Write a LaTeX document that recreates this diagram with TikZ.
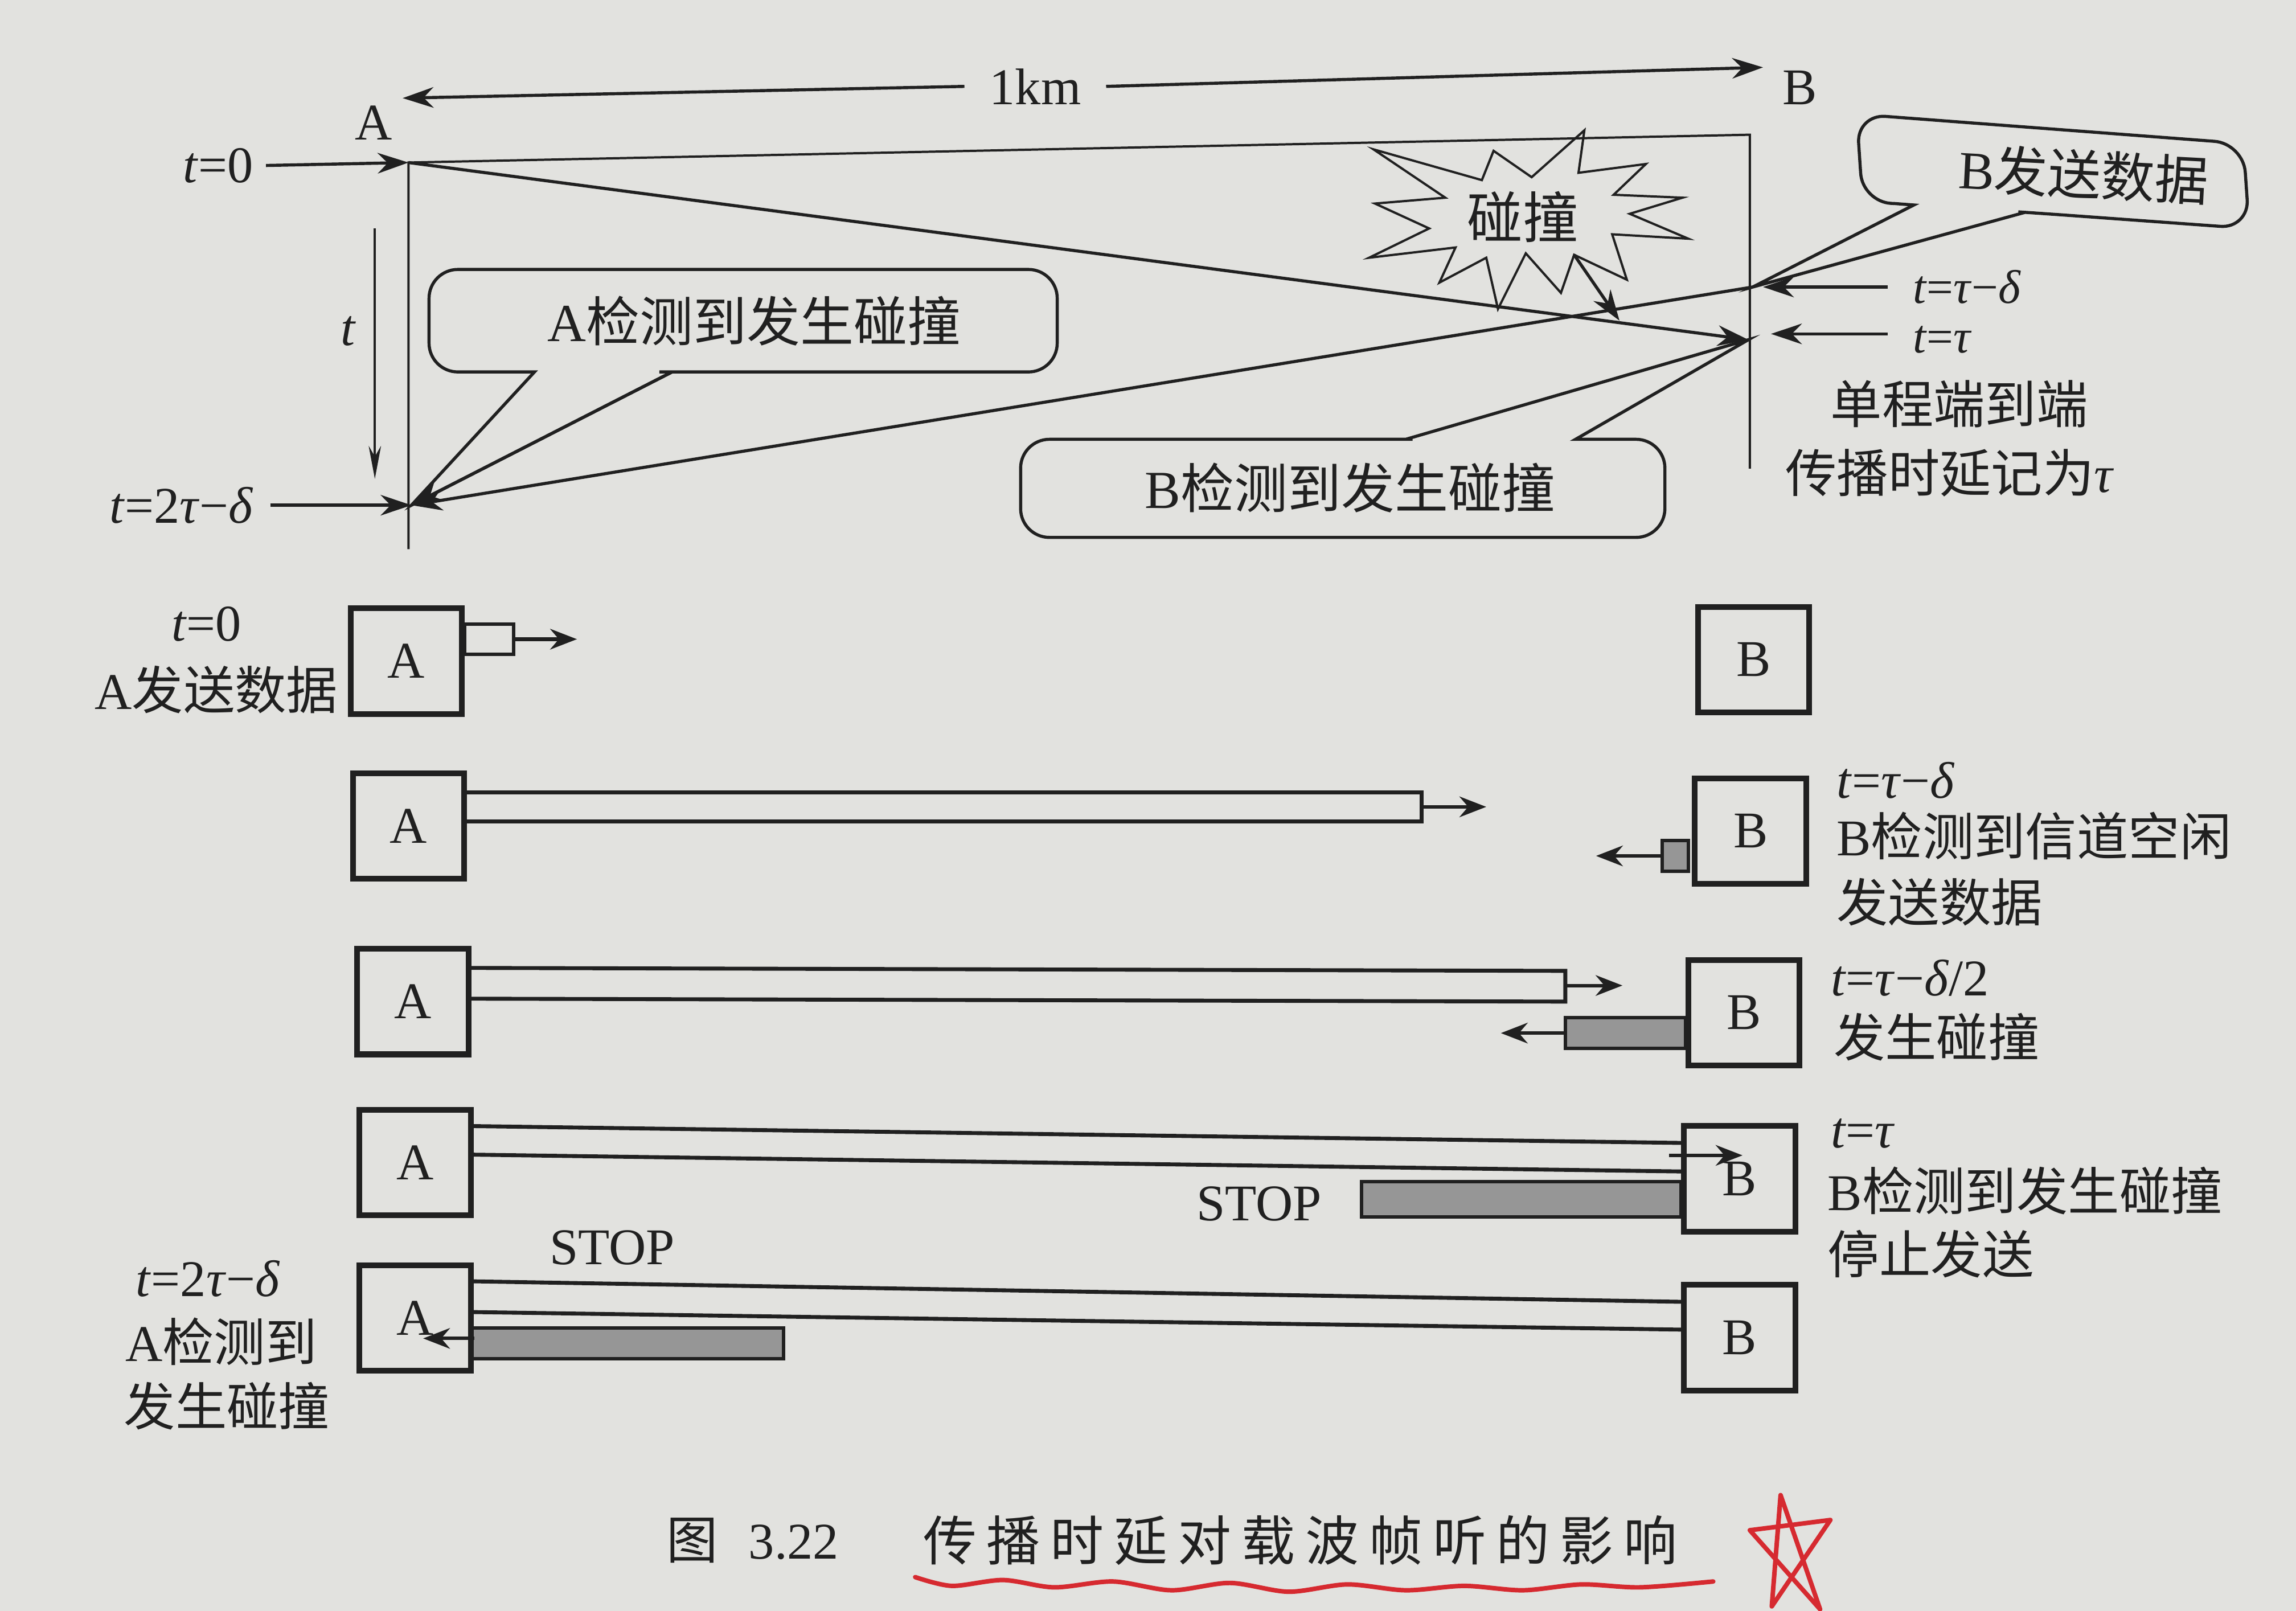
\documentclass[tikz,border=0pt]{standalone}
\usepackage{fontspec}
\setmainfont{Liberation Serif}
\newfontfamily\cjk{Noto Sans CJK SC}
\newfontfamily\cjkcap[LetterSpace=19]{Noto Sans CJK SC}
\usetikzlibrary{arrows.meta}
\definecolor{pagebg}{RGB}{226,226,223}
\definecolor{ink}{RGB}{32,32,32}
\definecolor{pktfill}{RGB}{150,150,150}
\definecolor{penred}{RGB}{214,42,48}

\begin{document}
\begin{tikzpicture}[x=0.025cm,y=-0.025cm,
        every node/.style={inner sep=0pt,text=ink,font=\fontsize{25}{30}\selectfont},
        frame/.style={draw=ink,line width=1.1pt},
        sig/.style={draw=ink,line width=1.5pt},
        arr/.style={sig,-{Stealth[length=15pt,width=10pt]}},
        sarr/.style={draw=ink,line width=1.7pt,-{Stealth[length=13pt,width=10pt]}},
        callout/.style={draw=ink,line width=1.5pt},
        station/.style={draw=ink,line width=2.8pt,minimum width=1.9cm,minimum height=1.8cm},
        wire/.style={draw=ink,line width=1.9pt},
        pkt/.style={draw=ink,line width=1.7pt,fill=pktfill}]
\fill[pagebg] (0,0) rectangle (1568,1100);
\useasboundingbox (0,0) rectangle (1568,1100);

% time diagram
\coordinate (A0) at (279,111);
\coordinate (Aend) at (279,375);
\coordinate (Btop) at (1195,92);
\coordinate (Bend) at (1195,320);
\coordinate (Bd) at (1197,196);
\coordinate (Bt) at (1194,232);
\coordinate (A2t) at (281,345);
\coordinate (kmA) at (275,67);
\coordinate (kmB) at (1204,46);
\coordinate (tA) at (256,156);
\coordinate (tB) at (256,327);

\node (Alab) at (255,84) {A};
\node (Blab) at (1229,60) {B};
\node[inner xsep=12pt] (km) at (707,59) {1km};
\draw[arr] (km.west) -- (kmA);
\draw[arr] (km.east) -- (kmB);

\draw[frame] (Aend) -- (A0) -- (Btop) -- (Bend);

\node (t0) at (149,113) {\textit{t}=0};
\draw[arr] ([xshift=6pt]t0.east) -- (A0);
\node (t2) at (124,345) {\textit{t}=2\textit{τ}−\textit{δ}};
\draw[arr] ([xshift=8pt]t2.east) -- (A2t);
\node (tl) at (238,226) {\textit{t}};
\draw[frame,-{Stealth[length=16pt,width=6pt]}] (tA) -- (tB);

\draw[arr] (A0) -- (Bt);
\draw[arr] (Bd) -- (A2t);

\node[anchor=west,font=\fontsize{23}{26}\selectfont] (ttd) at (1306,196) {\textit{t}=\textit{τ}−\textit{δ}};
\node[anchor=west,font=\fontsize{23}{26}\selectfont] (tt) at (1306,232) {\textit{t}=\textit{τ}};
\draw[arr] ([xshift=-12pt]ttd.west) -- ([xshift=5pt]Bd);
\draw[arr] ([xshift=-12pt]tt.west |- 0,228) -- ([xshift=11pt]Bt |- 0,228);
\node (oneway) at (1338,276) {\cjk 单程端到端};
\node[anchor=west] (delay) at (1219,323) {\cjk 传播时延记为\rmfamily\textit{τ}};

% collision burst
\draw[frame] (938,102) -- (1012,123) -- (1020,103) -- (1046,121) -- (1082,89)
    -- (1078,118) -- (1124,112) -- (1102,133) -- (1149,135) -- (1113,146)
    -- (1153,163) -- (1101,160) -- (1111,191) -- (1075,174) -- (1066,200)
    -- (1042,173) -- (1023,211) -- (1015,176) -- (983,193) -- (994,169)
    -- (935,176) -- (976,156) -- (939,139) -- (987,135) -- cycle;
\node[font=\cjk\fontsize{27}{30}\selectfont] (boom) at (1040,148) {碰撞};
\coordinate (boomA) at (1075,174);
\coordinate (boomB) at (1106,219);
\draw[arr] (boomA) -- (boomB);

% callouts
\draw[callout] (A2t) -- (365,254) -- (350,254) [rounded corners=14pt] -- (293,254)
    -- (293,184) -- (722,184) -- (722,254) -- (470,254) [sharp corners] -- (459,254) -- cycle;
\draw[arr] (459,254) -- (A2t);
\node[font=\fontsize{26}{30}\selectfont] (cA) at (515,219) {A\cjk 检测到发生碰撞};

\draw[callout] (Bt) -- (1076,300) -- (1090,300) [rounded corners=14pt] -- (1137,300)
    -- (1137,367) -- (697,367) -- (697,300) -- (945,300) [sharp corners] -- (960,300) -- cycle;
\node[font=\fontsize{26}{30}\selectfont] (cB) at (922,333) {B\cjk 检测到发生碰撞};

\draw[callout] (Bd) -- (1307,140) -- (1294,139) [rounded corners=14pt] -- (1272,138)
    -- (1268,78) -- (1532,98) -- (1536,156) -- (1398,146) [sharp corners] -- (1383,145) -- cycle;
\node[font=\fontsize{26}{30}\selectfont,rotate=-3] (cS) at (1423,119) {B\cjk 发送数据};

% row 1
\node[draw=ink,line width=1.7pt,minimum width=0.84cm,minimum height=0.52cm] (pk1) at (334,436.5) {};
\coordinate (pk1tip) at (394,436.5);
\draw[sarr] (pk1.east) -- (pk1tip);
\node[station] (A1) at (277.5,451.5) {A};
\node[station] (B1) at (1197.5,450.5) {B};
\node (r1t) at (141,426) {\textit{t}=0};
\node[anchor=east] (r1s) at (231,471) {A\cjk 发送数据};

% row 2
\draw[wire] (318,541) -- (971,541) -- (971,561) -- (318,561);
\coordinate (pp2) at (971,551);
\coordinate (pp2tip) at (1015,551);
\draw[sarr] (pp2) -- (pp2tip);
\node[pkt,minimum width=0.45cm,minimum height=0.525cm] (pk2) at (1144,584.5) {};
\coordinate (pk2tip) at (1090,584.5);
\draw[sarr] (pk2.west) -- (pk2tip);
\node[station] (A2) at (279,564) {A};
\node[station] (B2) at (1195.5,567.5) {B};
\node[anchor=west] (r2t) at (1254,533) {\textit{t}=\textit{τ}−\textit{δ}};
\node[anchor=west] (r2s) at (1254,571) {B\cjk 检测到信道空闲};
\node[anchor=west] (r2d) at (1254,616) {\cjk 发送数据};

% row 3
\draw[wire] (321,661) -- (1069,663) -- (1069,684) -- (321,682);
\coordinate (pp3) at (1069,673);
\coordinate (pp3tip) at (1108,673);
\draw[sarr] (pp3) -- (pp3tip);
\node[pkt,minimum width=2.05cm,minimum height=0.525cm] (pk3) at (1110,705.5) {};
\coordinate (pk3tip) at (1025,705.5);
\draw[sarr] (pk3.west) -- (pk3tip);
\node[station] (A3) at (282,684) {A};
\node[station] (B3) at (1191,691.5) {B};
\node[anchor=west] (r3t) at (1250,668) {\textit{t}=\textit{τ}−\textit{δ}/2};
\node[anchor=west] (r3s) at (1252,708) {\cjk 发生碰撞};

% row 4
\draw[wire] (322,769) -- (1148,780.5);
\draw[wire] (322,788.5) -- (1148,800);
\node[pkt,minimum width=5.45cm,minimum height=0.6cm] (pk4) at (1039,819) {};
\node (stopB) at (860,822) {STOP};
\node[station] (A4) at (283.5,794) {A};
\node[station] (B4) at (1188,805) {B};
\coordinate (pp4) at (1140,789);
\coordinate (pp4tip) at (1190,789);
\draw[sarr] (pp4) -- (pp4tip);
\node[anchor=west] (r4t) at (1250,774) {\textit{t}=\textit{τ}};
\node[anchor=west] (r4s) at (1248,813) {B\cjk 检测到发生碰撞};
\node[anchor=west] (r4d) at (1248,856.5) {\cjk 停止发送};

% row 5
\draw[wire] (322,875) -- (1148,889);
\draw[wire] (322,896) -- (1148,908);
\node[pkt,minimum width=5.325cm,minimum height=0.525cm] (pk5) at (428.5,917.5) {};
\node (stopA) at (418,852) {STOP};
\node[station] (A5) at (283.5,900) {A};
\node[station] (B5) at (1188,913.5) {B};
\coordinate (pp5) at (324,914);
\coordinate (pp5tip) at (289,914);
\draw[sarr] (pp5) -- (pp5tip);
\node (r5t) at (142,873) {\textit{t}=2\textit{τ}−\textit{δ}};
\node (r5s) at (151,916) {A\cjk 检测到};
\node (r5d) at (155,960) {\cjk 发生碰撞};

% caption
\node (fig) at (514,1052) {\cjk 图\hspace{0.6em}\rmfamily 3.22};
\node[font=\cjkcap\fontsize{26}{30}\selectfont] (cap) at (888,1052) {传播时延对载波帧听的影响};
\draw[penred,line width=2.2pt,line cap=round] plot[smooth] coordinates {(625,1077) (650,1083)
    (685,1079) (720,1084) (760,1080) (800,1086) (840,1081) (880,1087) (920,1082)
    (960,1086) (1000,1083) (1040,1086) (1080,1082) (1120,1084) (1170,1080)};
\draw[penred,line width=2.2pt,line join=round,line cap=round] (1216,1021) -- (1243,1099)
    -- (1195,1045) -- (1250,1038) -- (1210,1097) -- cycle;
\end{tikzpicture}
\end{document}
